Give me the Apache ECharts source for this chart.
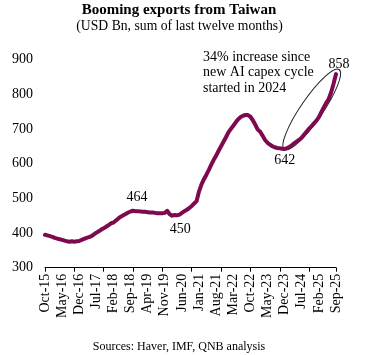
<!DOCTYPE html>
<html><head><meta charset="utf-8">
<script src="https://cdn.jsdelivr.net/npm/echarts@6/dist/echarts.min.js"></script>
<style>html,body{margin:0;padding:0;background:#fff}#c{width:373px;height:355px}</style>
</head><body><div id="c"></div>
<script>
const monthNames = ['Jan','Feb','Mar','Apr','May','Jun','Jul','Aug','Sep','Oct','Nov','Dec'];
const firstYear = 2015, firstMonthIdx = 9; // Oct-15
const nMonths = 120; // Oct-15 .. Sep-25
const categories = [];
for (let k = 0; k < nMonths; k++) {
  const m = (firstMonthIdx + k) % 12;
  const y = firstYear + Math.floor((firstMonthIdx + k) / 12);
  categories.push(monthNames[m] + '-' + String(y % 100).padStart(2, '0'));
}
// USD Bn, sum of last twelve months
const exportsBn = [
  395,393,391,389,386,384,382,380,378,376,375,376,
  375,376,377,380,383,386,388,391,396,401,405,410,
  414,418,423,428,430,436,442,447,451,455,459,462,
  464,463,463,462,461,461,460,459,459,458,457,457,
  457,458,464,454,450,452,451,453,458,463,467,472,
  478,485,492,520,540,555,568,582,597,611,623,637,
  650,663,676,690,700,709,719,728,734,738,740,740,
  735,725,712,698,692,680,668,660,655,650,647,645,
  644,643,642,645,648,653,659,664,669,675,684,692,
  701,708,716,724,734,748,762,775,786,805,830,858
];
const yMin = 300, yMax = 900, yStep = 100;
const labelledPoints = [36, 52, 98, 119];
const titleText = 'Booming exports from Taiwan';
const subtitleText = '(USD Bn, sum of last twelve months)';
const sourceText = 'Sources: Haver, IMF, QNB analysis';
const noteLines = ['34% increase since', 'new AI capex cycle', 'started in 2024'];

const FONT = '"Liberation Serif", "Times New Roman", serif';
const LINE_COLOR = '#7d0a4f';
const labelCfg = {
  36: {position: 'top', offset: [4, -1]},
  52: {position: 'bottom', offset: [8, 2]},
  98: {position: 'bottom', offset: [0, -1]},
  119: {position: 'top', offset: [3, 2]}
};
const markData = labelledPoints.map(i => ({
  coord: [i, exportsBn[i]], value: exportsBn[i],
  label: Object.assign({show: true, formatter: String(exportsBn[i]), fontFamily: FONT, fontSize: 14, color: '#000', distance: 5}, labelCfg[i])
}));

const chart = echarts.init(document.getElementById('c'), null, {renderer: 'canvas'});
const baseGraphic = [
  {type: 'text', id: 't1', x: 179, y: 10, style: {text: titleText, font: 'bold 15px ' + FONT, fill: '#000', align: 'center', verticalAlign: 'middle'}},
  {type: 'text', id: 't2', x: 179.5, y: 26, style: {text: subtitleText, font: '13.7px ' + FONT, fill: '#000', align: 'center', verticalAlign: 'middle'}},
  {type: 'text', id: 't3', x: 179, y: 347, style: {text: sourceText, font: '12px ' + FONT, fill: '#000', align: 'center', verticalAlign: 'middle'}},
  {type: 'text', id: 't4', x: 203, y: 49.5, style: {text: noteLines.join('\n'), font: '14px ' + FONT, lineHeight: 15.5, fill: '#000', align: 'left', verticalAlign: 'top'}}
];
chart.setOption({
  animation: false,
  backgroundColor: '#fff',
  grid: {left: 45, right: 37, top: 59.5, bottom: 87.3, containLabel: false},
  xAxis: {
    type: 'category',
    data: categories,
    boundaryGap: false,
    axisLine: {lineStyle: {color: '#000', width: 1}},
    axisTick: {show: true, inside: false, length: 4, lineStyle: {color: '#000'},
      interval: function (idx) { return idx % 12 === 0 || idx === nMonths - 1; }},
    axisLabel: {interval: 6, rotate: 90, margin: 6, fontFamily: FONT, fontSize: 14, color: '#000'},
    splitLine: {show: false}
  },
  yAxis: {
    type: 'value', min: yMin, max: yMax, interval: yStep,
    axisLine: {show: false}, axisTick: {show: false}, splitLine: {show: false},
    axisLabel: {margin: 12, fontFamily: FONT, fontSize: 14, color: '#000'}
  },
  series: [{
    type: 'line', data: exportsBn, showSymbol: false, symbol: 'none', smooth: false,
    lineStyle: {color: LINE_COLOR, width: 4, cap: 'round', join: 'round'},
    itemStyle: {color: LINE_COLOR},
    emphasis: {disabled: true},
    markPoint: {symbol: 'circle', symbolSize: 0.01, itemStyle: {color: 'transparent'}, silent: true, data: markData}
  }],
  graphic: baseGraphic
});

const p1 = chart.convertToPixel({seriesIndex: 0}, [98, exportsBn[98]]);
const p2 = chart.convertToPixel({seriesIndex: 0}, [119, exportsBn[119]]);
const dx = p2[0] - p1[0], dy = p2[1] - p1[1];
const L = Math.sqrt(dx * dx + dy * dy);
const ux = dx / L, uy = dy / L;
const cx = p1[0] + ux * (L / 2 + 2.5), cy = p1[1] + uy * (L / 2 + 2.5);
const rot = Math.atan2(-dy, dx);
chart.setOption({
  graphic: baseGraphic.concat([{
    type: 'ellipse', id: 'ell', x: cx, y: cy, rotation: rot,
    shape: {cx: 0, cy: 0, rx: L / 2 + 3, ry: 11},
    style: {fill: 'none', stroke: '#222', lineWidth: 1}, silent: true
  }])
});
</script></body></html>
